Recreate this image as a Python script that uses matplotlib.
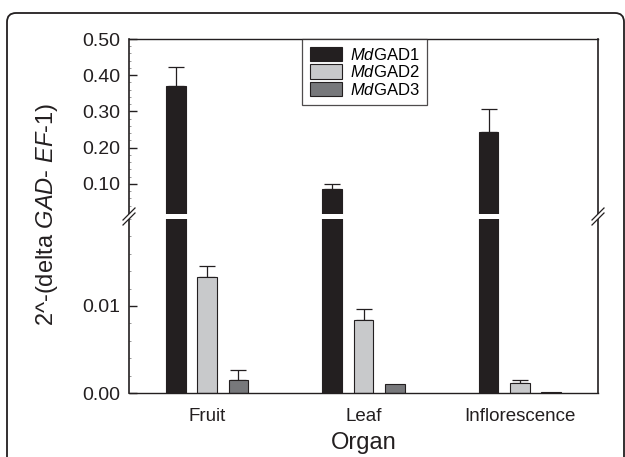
import matplotlib
matplotlib.use("Agg")
import matplotlib.pyplot as plt
import numpy as np
from matplotlib.patches import FancyBboxPatch, Polygon
from matplotlib.lines import Line2D
from matplotlib.ticker import MultipleLocator

plt.rcParams['font.family'] = ['Liberation Sans', 'DejaVu Sans']
plt.rcParams['mathtext.fontset'] = 'custom'
plt.rcParams['mathtext.rm'] = 'Liberation Sans'
plt.rcParams['mathtext.it'] = 'Liberation Sans:italic'

# ---- data ----
organs = ["Fruit", "Leaf", "Inflorescence"]
series = ["MdGAD1", "MdGAD2", "MdGAD3"]
gad1 = [0.369, 0.085, 0.244]
gad1_err = [0.053, 0.014, 0.062]
gad2 = [0.0133, 0.0084, 0.0012]
gad2_err = [0.0013, 0.0013, 0.0003]
gad3 = [0.0015, 0.0010, 0.0001]
gad3_err = [0.0012, 0.0, 0.0]
y_label = "2^-(delta $\\mathit{GAD}$- $\\mathit{EF}$-$\\mathit{1}$)"
x_label = "Organ"
upper_ticks = [0.10, 0.20, 0.30, 0.40, 0.50]
lower_ticks = [0.00, 0.01]

colors = ["#231f20", "#c8c9cb", "#77787b"]
values = [gad1, gad2, gad3]
errors = [gad1_err, gad2_err, gad3_err]

W, H = 625, 457
fig = plt.figure(figsize=(W / 100, H / 100), dpi=100)

left_px, right_px = 129, 598
top_px, brk_top, brk_bot, bot_px = 39, 214, 219, 393

def fx(px):
    return px / W

def fy(py):
    return 1 - py / H

ax_top = fig.add_axes([fx(left_px), fy(brk_top), fx(right_px) - fx(left_px), fy(top_px) - fy(brk_top)])
ax_bot = fig.add_axes([fx(left_px), fy(bot_px), fx(right_px) - fx(left_px), fy(brk_bot) - fy(bot_px)])

ax_top.set_ylim(0.1 - 30 / 360, 0.50)
ax_bot.set_ylim(0, 0.02)

x = np.arange(len(organs))
offsets = [-0.2, 0.0, 0.2]
width = 0.125

for ax in (ax_top, ax_bot):
    lo = ax.get_ylim()[0]
    for vals, errs, col, off, lab in zip(values, errors, colors, offsets, series):
        v = np.array(vals)
        e = np.array(errs)
        show = v > lo
        if not show.any():
            continue
        ax.bar((x + off)[show], v[show], width, color=col, edgecolor="#231f20", linewidth=0.8,
               label="$\\mathit{Md}$" + lab[2:], zorder=2)
        mask = show & (e > 0)
        if mask.any():
            ax.errorbar((x + off)[mask], v[mask],
                        yerr=[np.zeros(mask.sum()), e[mask]], fmt="none",
                        ecolor="#231f20", elinewidth=0.9, capsize=5.5, capthick=0.9, zorder=1)
    ax.set_xlim(-0.5, 2.5)
    ax.spines['left'].set_visible(False)
    ax.spines['right'].set_visible(False)

ax_top.spines['bottom'].set_visible(False)
ax_bot.spines['top'].set_visible(False)
ax_top.spines['top'].set_linewidth(1.0)
ax_top.spines['top'].set_color('#231f20')
ax_bot.spines['bottom'].set_linewidth(1.0)
ax_bot.spines['bottom'].set_color('#231f20')

ax_top.set_yticks(upper_ticks)
ax_top.set_yticklabels([f"{t:.2f}" for t in upper_ticks])
ax_top.yaxis.set_minor_locator(MultipleLocator(0.02))
ax_bot.set_yticks(lower_ticks)
ax_bot.set_yticklabels([f"{t:.2f}" for t in lower_ticks])
ax_bot.yaxis.set_minor_locator(MultipleLocator(0.002))

for ax in (ax_top, ax_bot):
    ax.tick_params(axis='y', which='major', direction='in', length=5.5, width=1.0,
                   labelsize=14, pad=6, colors='#231f20')
    ax.tick_params(axis='y', which='minor', direction='in', length=1.5, width=0.6,
                   colors='#888888')
    ax.set_facecolor('none')

ax_top.tick_params(axis='x', bottom=False, labelbottom=False)
ax_bot.set_xticks(x)
ax_bot.set_xticklabels(organs)
ax_bot.tick_params(axis='x', length=0, labelsize=13.5, pad=11, colors='#231f20')

# continuous left/right spines
for xp in (left_px, right_px):
    fig.add_artist(Line2D([fx(xp), fx(xp)], [fy(bot_px), fy(top_px)],
                          transform=fig.transFigure, color='#231f20', lw=1.2))

# break marks
cy = (brk_top + brk_bot) / 2
for xp in (left_px, right_px):
    pts = [(xp - 6, cy + 8.5), (xp + 6, cy - 3.5), (xp + 6, cy - 8.5), (xp - 6, cy + 3.5)]
    fig.add_artist(Polygon([(fx(a), fy(b)) for a, b in pts], closed=True,
                           transform=fig.transFigure, facecolor='white', edgecolor='none', zorder=5))
    for dy in (-2.5, 2.5):
        fig.add_artist(Line2D([fx(xp - 6), fx(xp + 6)], [fy(cy + 6 + dy), fy(cy - 6 + dy)],
                              transform=fig.transFigure, color='#231f20', lw=0.9, zorder=6))

# legend
h, l = ax_bot.get_legend_handles_labels()
leg = fig.legend(h, l, loc='upper left', bbox_to_anchor=(fx(302), fy(39)),
                 bbox_transform=fig.transFigure, borderaxespad=0, frameon=True,
                 fancybox=False, edgecolor='#231f20', fontsize=12,
                 handlelength=1.95, handleheight=0.95, labelspacing=0.1,
                 handletextpad=0.5, borderpad=0.45)
leg.get_frame().set_linewidth(0.9)

fig.text(fx(47), fy(214), y_label, rotation=90, ha='center', va='center',
         fontsize=17, color='#231f20')
fig.text(fx(364), fy(443), x_label, ha='center', va='center', fontsize=17, color='#231f20')

# rounded outer frame
frame = FancyBboxPatch((0.07, -0.3), 6.17, 4.44 + 0.3,
                       boxstyle="round,pad=0,rounding_size=0.09",
                       transform=fig.dpi_scale_trans, fill=False,
                       edgecolor='#231f20', linewidth=1.3, clip_on=False)
fig.add_artist(frame)

fig.savefig("out.png", dpi=100)
